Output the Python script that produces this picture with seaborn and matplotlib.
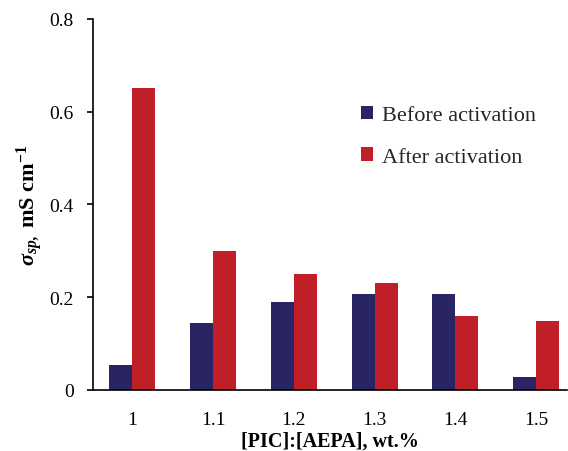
import matplotlib
matplotlib.use("Agg")
import matplotlib.pyplot as plt
import seaborn as sns
import pandas as pd

# Ratio values and specific conductivity (mS/cm)
ratios = ["1", "1.1", "1.2", "1.3", "1.4", "1.5"]
before_activation = [0.053, 0.144, 0.189, 0.207, 0.207, 0.027]
after_activation = [0.650, 0.300, 0.250, 0.230, 0.158, 0.149]
series_names = ["Before activation", "After activation"]
y_ticks = [0, 0.2, 0.4, 0.6, 0.8]
y_tick_labels = ["0", "0.2", "0.4", "0.6", "0.8"]

df = pd.DataFrame({
    "ratio": ratios * 2,
    "value": before_activation + after_activation,
    "state": [series_names[0]] * len(ratios) + [series_names[1]] * len(ratios),
})

sns.set_theme(style="white")
plt.rcParams["font.family"] = ["Liberation Serif", "DejaVu Serif"]
plt.rcParams["mathtext.fontset"] = "custom"
plt.rcParams["mathtext.rm"] = "Liberation Serif"
plt.rcParams["mathtext.it"] = "Liberation Serif:italic"
plt.rcParams["mathtext.bf"] = "Liberation Serif:bold"
plt.rcParams["mathtext.bfit"] = "Liberation Serif:italic:bold"

fig = plt.figure(figsize=(5.68, 4.52), dpi=100)
ax = fig.add_axes([0.1637, 0.1356, 0.8343, 0.8202])

palette = {series_names[0]: "#292462", series_names[1]: "#c11f27"}
sns.barplot(data=df, x="ratio", y="value", hue="state", order=ratios,
            hue_order=series_names, palette=palette, width=0.57,
            saturation=1, ax=ax, linewidth=0)

ax.set_xlim(-0.486, 5.38)
ax.set_ylim(0, 0.8)
ax.set_yticks(y_ticks)
ax.set_yticklabels(y_tick_labels)

for side in ["top", "right"]:
    ax.spines[side].set_visible(False)
for side in ["left", "bottom"]:
    ax.spines[side].set_color("black")
    ax.spines[side].set_linewidth(1.2)

ax.tick_params(axis="y", direction="out", length=4, width=1.2, color="black",
               left=True, labelsize=14, labelcolor="black", pad=10)
ax.tick_params(axis="x", bottom=False, labelsize=14, labelcolor="black", pad=9)

ax.set_xlabel("[PIC]:[AEPA], wt.%", fontsize=14.5, fontweight="bold", color="black",
              labelpad=2)
ax.set_ylabel(r"$\mathbfit{\sigma}_{\mathbfit{sp,}}$ mS cm$^{\mathbf{-1}}$",
              fontsize=16, fontweight="bold", color="black", labelpad=3)

leg = ax.legend(loc="upper left", bbox_to_anchor=(0.523, 0.82), frameon=False,
                fontsize=16, handlelength=0.55, handleheight=0.55,
                handletextpad=0.4, labelspacing=1.0)

fig.savefig("out.png", dpi=100)
